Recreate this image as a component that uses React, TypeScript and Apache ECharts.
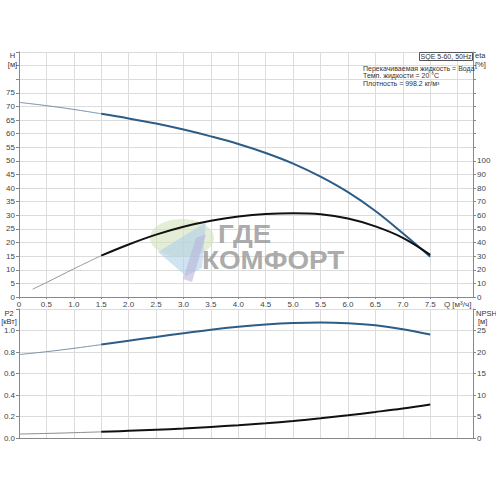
import React, { useEffect, useRef } from "react";
import * as echarts from "echarts";

const Q = [0, 0.5, 1.0, 1.5, 2.0, 2.5, 3.0, 3.5, 4.0, 4.5, 5.0, 5.5, 6.0, 6.5, 7.0, 7.5];
const H = [71.5, 70.3, 68.9, 67.3, 65.6, 63.7, 61.5, 59.0, 56.2, 52.9, 49.0, 44.2, 38.5, 31.6, 23.4, 14.8];
const Q_ETA = [0.25, 0.5, 1.0, 1.5, 2.0, 2.5, 3.0, 3.5, 4.0, 4.5, 5.0, 5.5, 6.0, 6.5, 7.0, 7.5];
const ETA = [5.8, 10.6, 20.7, 30.4, 38.6, 45.8, 51.6, 56.0, 59.1, 61.0, 61.6, 60.8, 57.6, 51.9, 43.5, 31.0];
const P2 = [0.776, 0.803, 0.834, 0.869, 0.905, 0.940, 0.975, 1.007, 1.034, 1.055, 1.069, 1.074, 1.067, 1.048, 1.012, 0.962];
const NPSH = [0.92, 1.06, 1.23, 1.43, 1.66, 1.92, 2.22, 2.58, 2.98, 3.44, 3.96, 4.58, 5.28, 6.05, 6.87, 7.8];
const Q_SPLIT = 1.5;

const INFO_LINES = ["Перекачиваемая жидкость = Вода", "Темп. жидкости = 20 °C", "Плотность = 998.2 кг/м³"];
const PUMP_NAME = "SQE 5-60, 50Hz";
const WATERMARK = ["ГДЕ", "КОМФОРТ"];

const FONT = "Liberation Sans";
const BLUE = "#2c5d87";
const BLUE_THIN = "#7890a8";
const BLACK = "#111111";
const GRAY_THIN = "#8a8a8a";

function pairs(xs: number[], ys: number[]) {
  return xs.map((x, i) => [x, ys[i]]);
}
function part(data: number[][], thick: boolean) {
  return data.filter((d) => (thick ? d[0] >= Q_SPLIT : d[0] <= Q_SPLIT));
}

export default function App() {
  const ref = useRef<HTMLDivElement>(null);
  useEffect(() => {
    if (!ref.current) return;
    const chart = echarts.init(ref.current, undefined, { renderer: "svg" });
    const hData = pairs(Q, H);
    const etaData = pairs(Q_ETA, ETA);
    const p2Data = pairs(Q, P2);
    const npshData = pairs(Q, NPSH);
    const label = { fontFamily: FONT, fontSize: 8, color: "#444" };
    const axisLine = { show: true, lineStyle: { color: "#888", width: 1 } };
    const split = { show: true, lineStyle: { color: "#dcdcdc", width: 1 } };
    const xFmt = (v: number) => {
      if (Math.abs(v - 8) < 1e-6) return "Q [м³/ч]";
      if (v > 8 || Math.abs(v * 2 - Math.round(v * 2)) > 1e-6) return "";
      return v === 0 ? "0" : v.toFixed(1);
    };
    const line = (name: string, data: number[][], xi: number, yi: number, color: string, width: number) => ({
      name,
      type: "line",
      xAxisIndex: xi,
      yAxisIndex: yi,
      data,
      smooth: 0.4,
      showSymbol: false,
      symbol: "none",
      lineStyle: { color, width },
      z: 3,
    });
    const txt = (text: string, x: number, y: number, align: string, size = 7, extra: any = {}) => ({
      type: "text",
      x,
      y,
      z: 10,
      style: { text, fontFamily: FONT, fontSize: size, fill: "#333", align, verticalAlign: "middle", ...extra },
    });
    const wm = { fontFamily: FONT, fontWeight: "bold", fontSize: 26, lineHeight: 26, fill: "rgba(150,150,150,0.8)", align: "left", verticalAlign: "middle" };
    chart.setOption({
      animation: false,
      backgroundColor: "#fff",
      grid: [
        { left: 19, right: 23, top: 52, height: 245 },
        { left: 19, right: 23, top: 309, height: 129 },
      ],
      xAxis: [
        {
          type: "value", gridIndex: 0, min: 0, max: 8.28, interval: 0.5,
          axisLine, axisTick: { show: true, length: 2, lineStyle: { color: "#888" } },
          axisLabel: { ...label, margin: 3, formatter: xFmt, showMaxLabel: false },
          splitLine: split,
        },
        {
          type: "value", gridIndex: 1, min: 0, max: 8.28, interval: 0.5,
          axisLine, axisTick: { show: false }, axisLabel: { show: false },
          splitLine: split,
        },
      ],
      yAxis: [
        {
          type: "value", gridIndex: 0, min: 0, max: 90, interval: 5,
          axisLine, axisTick: { show: true, length: 3, lineStyle: { color: "#888" } },
          axisLabel: { ...label, margin: 4, formatter: (v: number) => (v > 75 ? "" : String(v)) },
          splitLine: split,
        },
        {
          type: "value", gridIndex: 0, min: 0, max: 180, interval: 10, position: "right",
          axisLine, axisTick: { show: true, length: 3, lineStyle: { color: "#888" } },
          axisLabel: { ...label, margin: 4, formatter: (v: number) => (v > 100 ? "" : String(v)) },
          splitLine: { show: false },
        },
        {
          type: "value", gridIndex: 1, min: 0, max: 1.2, interval: 0.2,
          axisLine, axisTick: { show: true, length: 3, lineStyle: { color: "#888" } },
          axisLabel: { ...label, margin: 4, formatter: (v: number) => (v > 1.01 ? "" : v.toFixed(1)) },
          splitLine: split,
        },
        {
          type: "value", gridIndex: 1, min: 0, max: 30, interval: 5, position: "right",
          axisLine, axisTick: { show: true, length: 3, lineStyle: { color: "#888" } },
          axisLabel: { ...label, margin: 4, formatter: (v: number) => (v > 25 ? "" : String(v)) },
          splitLine: { show: false },
        },
      ],
      series: [
        line("H thin", part(hData, false), 0, 0, BLUE_THIN, 1),
        line("H", part(hData, true), 0, 0, BLUE, 2),
        line("eta thin", part(etaData, false), 0, 1, GRAY_THIN, 0.9),
        line("eta", part(etaData, true), 0, 1, BLACK, 2),
        line("P2 thin", part(p2Data, false), 1, 2, BLUE_THIN, 1),
        line("P2", part(p2Data, true), 1, 2, BLUE, 2),
        line("NPSH thin", part(npshData, false), 1, 3, GRAY_THIN, 1),
        line("NPSH", part(npshData, true), 1, 3, BLACK, 2),
      ],
      graphic: [
        { type: "ellipse", z: 1, shape: { cx: 182, cy: 238, rx: 32, ry: 19 }, style: { fill: "rgba(210,226,188,0.6)" } },
        { type: "polygon", z: 1, shape: { points: [[158, 252], [206, 222], [202, 268], [186, 276]] }, style: { fill: "rgba(175,208,232,0.6)" } },
        { type: "polygon", z: 1, shape: { points: [[196, 238], [206, 234], [192, 282], [183, 279]] }, style: { fill: "rgba(185,180,218,0.6)" } },
        { type: "text", z: 1, x: 218, y: 234, scaleX: 1.07, style: { text: WATERMARK[0], ...wm } },
        { type: "text", z: 1, x: 202, y: 260, scaleX: 1.07, style: { text: WATERMARK[1], ...wm } },
        { type: "rect", z: 10, shape: { x: 419.5, y: 52.5, width: 53, height: 8 }, style: { fill: "#fff", stroke: "#555", lineWidth: 1 } },
        txt(PUMP_NAME, 446, 56.5, "center", 7),
        txt(INFO_LINES[0], 363, 68.5, "left"),
        txt(INFO_LINES[1], 363, 75.8, "left"),
        txt(INFO_LINES[2], 363, 83, "left"),
        txt("H", 12.5, 55.5, "center", 7.5),
        txt("[м]", 12.5, 64.5, "center", 7.5),
        txt("eta", 475, 55.5, "left", 7.5),
        txt("[%]", 475, 64, "left", 7.5),
        txt("P2", 9, 313, "center", 7.5),
        txt("[кВт]", 9, 321, "center", 7.5),
        txt("NPSH", 476, 313, "left", 7.5),
        txt("[м]", 478, 321, "left", 7.5),
      ],
    });
    return () => chart.dispose();
  }, []);
  return <div ref={ref} style={{ position: "fixed", left: 0, top: 0, width: 496, height: 496 }} />;
}
